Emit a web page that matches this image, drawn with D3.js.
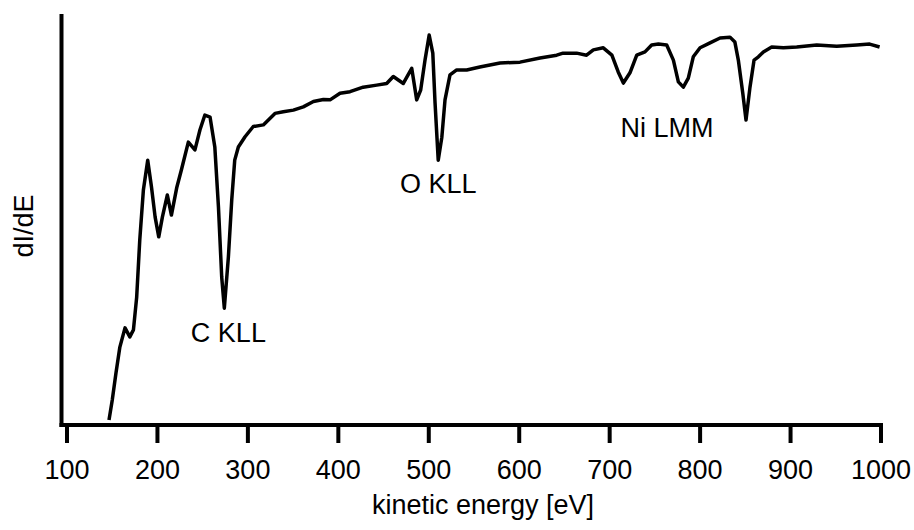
<!DOCTYPE html>
<html>
<head>
<meta charset="utf-8">
<script src="https://cdn.jsdelivr.net/npm/d3@7"></script>
<style>
  body { margin: 0; background: #fff; }
  svg { display: block; }
</style>
</head>
<body>
<div id="chart"></div>
<script>
// Kinetic energy of each sampled point (eV).
const energy = [147, 150.6, 154.7, 159, 164.7, 170, 174, 177.6, 181, 185,
    189.8, 194, 198, 202, 206, 211.5, 216, 222, 227, 234.7,
    242, 247.6, 253, 258.7, 264, 268, 271.6, 274.5, 279, 282.7,
    286, 290, 297.4, 306.5, 317.6, 330.5, 339.7, 350.8, 361.8, 373,
    384, 391.4, 402.4, 413.5, 428, 443, 454, 461.3, 472.4, 481.7,
    487.2, 491.6, 496.4, 501, 505, 507.5, 511, 515, 518.5, 524, 531.4,
    542.5, 557, 579.3, 601.4, 623.5, 642, 649, 664, 675, 682.5,
    693.5, 703, 710, 715.7, 723, 730.5, 739.6, 747, 754.4, 763.6,
    771, 776.5, 782, 787.5, 793, 800.5, 811.5, 822.6, 833.6, 839,
    842.8, 847.7, 851.3, 855.7, 860.2, 865, 870.5, 879.7, 892.6, 907.4,
    929.5, 951.6, 973.7, 988, 999];
// dI/dE signal (arbitrary units) at each energy.
const signal = [1.2, 6.1, 12.7, 19.0, 23.7, 21.5, 23.2, 31.2, 45.1, 57.3,
    64.6, 58.0, 50.7, 45.9, 50.7, 56.1, 51.2, 58.0, 62.2, 69.0,
    67.1, 72.0, 75.6, 75.1, 67.8, 53.2, 36.1, 28.5, 41.0, 54.9,
    64.6, 67.8, 70.3, 72.8, 73.2, 76.0, 76.4, 76.8, 77.6, 78.9,
    79.4, 79.3, 80.9, 81.3, 82.4, 82.9, 83.3, 85.0, 83.3, 87.0,
    79.3, 81.7, 89.0, 95.1, 90.7, 78.5, 64.6, 70.2, 79.3, 85.4, 86.6,
    86.6, 87.3, 88.3, 88.5, 89.5, 90.2, 90.7, 90.7, 90.2, 91.5,
    92.0, 90.2, 86.1, 83.4, 85.9, 90.2, 91.0, 92.7, 92.9, 92.7,
    89.0, 83.7, 82.4, 84.6, 89.8, 92.0, 93.2, 94.4, 94.6, 93.4,
    89.0, 81.0, 74.4, 82.4, 89.0, 89.8, 91.0, 92.2, 92.0, 92.2,
    92.7, 92.4, 92.7, 92.9, 92.2];

const xTicks = [100, 200, 300, 400, 500, 600, 700, 800, 900, 1000];

// Peak labels and where they sit (energy, signal).
const peakNames = ["C KLL", "O KLL", "Ni LMM"];
const peakAt = [[279, 20.2], [511, 56.6], [764, 70.2]];

const w = 914, h = 530;
const fontFamily = "'Liberation Sans', Arial, Helvetica, sans-serif";

const svg = d3.select("#chart")
    .append("svg")
    .attr("width", w)
    .attr("height", h);

const xScale = d3.scaleLinear()
    .domain([100, 1000])
    .range([66.5, 880.5]);

const yScale = d3.scaleLinear()
    .domain([0, 100])
    .range([425, 15]);

// X axis: ticks only, the baseline is drawn separately so it meets the y axis.
const xAxis = svg.append("g")
    .attr("transform", `translate(0,${yScale(0)})`)
    .call(d3.axisBottom(xScale)
        .tickValues(xTicks)
        .tickFormat(d3.format("d"))
        .tickSize(18)
        .tickSizeOuter(0)
        .tickPadding(17));

xAxis.select(".domain").remove();
xAxis.selectAll(".tick line")
    .attr("stroke", "#000")
    .attr("stroke-width", 4);
xAxis.selectAll(".tick text")
    .attr("fill", "#000")
    .attr("font-family", fontFamily)
    .attr("font-size", 27);

// Axis lines.
svg.append("line")
    .attr("x1", 59.5).attr("x2", 883)
    .attr("y1", yScale(0)).attr("y2", yScale(0))
    .attr("stroke", "#000")
    .attr("stroke-width", 4);

svg.append("line")
    .attr("x1", 61.5).attr("x2", 61.5)
    .attr("y1", 14).attr("y2", yScale(0) + 2)
    .attr("stroke", "#000")
    .attr("stroke-width", 4);

// The spectrum.
const line = d3.line()
    .x((d, i) => xScale(energy[i]))
    .y(d => yScale(d));

svg.append("path")
    .datum(signal)
    .attr("fill", "none")
    .attr("stroke", "#000")
    .attr("stroke-width", 3.5)
    .attr("stroke-linejoin", "round")
    .attr("d", line);

// Peak labels.
svg.selectAll("text.peak")
    .data(peakNames)
    .enter()
    .append("text")
    .attr("class", "peak")
    .text(d => d)
    .attr("x", (d, i) => xScale(peakAt[i][0]))
    .attr("y", (d, i) => yScale(peakAt[i][1]))
    .attr("text-anchor", "middle")
    .attr("fill", "#000")
    .attr("font-family", fontFamily)
    .attr("font-size", 27);

// Axis titles.
svg.append("text")
    .text("kinetic energy [eV]")
    .attr("x", 483)
    .attr("y", 514)
    .attr("text-anchor", "middle")
    .attr("fill", "#000")
    .attr("font-family", fontFamily)
    .attr("font-size", 27);

svg.append("text")
    .text("dI/dE")
    .attr("transform", "translate(33,226) rotate(-90)")
    .attr("text-anchor", "middle")
    .attr("fill", "#000")
    .attr("font-family", fontFamily)
    .attr("font-size", 27);
</script>
</body>
</html>
